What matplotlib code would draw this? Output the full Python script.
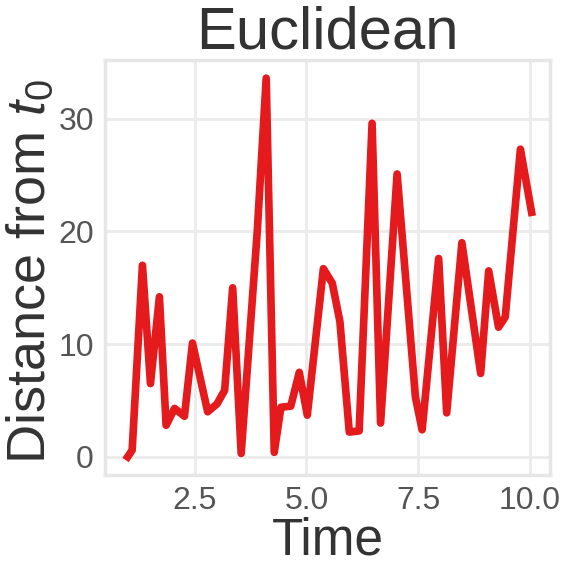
import numpy as np
import matplotlib
matplotlib.use("Agg")
import matplotlib.pyplot as plt

# values
time = [1.0, 1.1, 1.33, 1.51, 1.71, 1.86, 2.05, 2.27, 2.45, 2.79, 3.0, 3.17, 3.35,
        3.54, 3.9, 4.1, 4.28, 4.43, 4.65, 4.84, 5.02, 5.38, 5.58, 5.75, 5.96, 6.18,
        6.47, 6.66, 7.03, 7.44, 7.59, 7.96, 8.14, 8.48, 8.9, 9.08, 9.3, 9.45, 9.79,
        10.04]
dist = [0.0, 0.6, 17.0, 6.5, 14.2, 2.8, 4.3, 3.6, 10.1, 4.0, 4.7, 5.9, 15.0,
        0.3, 20.0, 33.6, 0.4, 4.4, 4.5, 7.5, 3.7, 16.7, 15.4, 12.0, 2.2, 2.3,
        29.6, 3.0, 25.1, 5.3, 2.4, 17.6, 3.9, 19.0, 7.4, 16.5, 11.5, 12.4, 27.3,
        21.7]

plt.rcParams['font.family'] = ['Liberation Sans', 'DejaVu Sans']
plt.rcParams['mathtext.fontset'] = 'custom'
plt.rcParams['mathtext.rm'] = 'Liberation Sans'
plt.rcParams['mathtext.it'] = 'Liberation Sans:italic'

fig = plt.figure(figsize=(5.64, 5.62), dpi=100)
ax = fig.add_axes([0.186, 0.155, 0.789, 0.738])

ax.plot(time, dist, color='#e41a1c', lw=5.5)

ax.set_xticks([2.5, 5.0, 7.5, 10.0])
ax.set_yticks([0, 10, 20, 30])
ax.set_xlim(0.49, 10.45)
ax.set_ylim(-1.6, 35.2)

ax.grid(True, color='#ebebeb', lw=2)
ax.set_axisbelow(True)
for s in ax.spines.values():
    s.set_color('#e6e6e6')
    s.set_linewidth(2.5)
ax.tick_params(length=0, labelsize=23, labelcolor='#555555', pad=8)

ax.set_title('Euclidean', fontsize=43, color='#333333', pad=8)
ax.set_xlabel('Time', fontsize=37, color='#333333', labelpad=0)
ax.set_ylabel('Distance from $t_0$', fontsize=39, color='#333333')
ax.yaxis.set_label_coords(-0.11, 0.49)

fig.savefig('out.png', dpi=100)
